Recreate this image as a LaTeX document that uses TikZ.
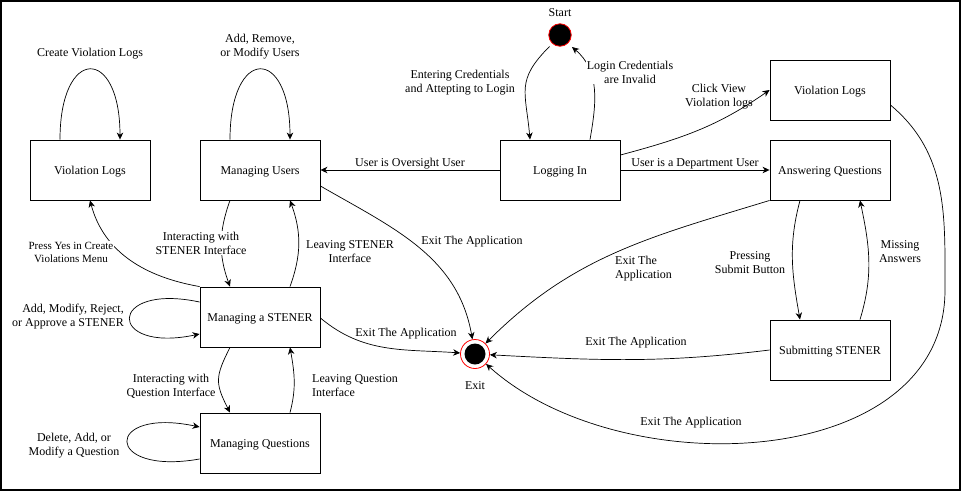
\documentclass[tikz,border=0pt]{standalone}
\usepackage{fontspec}
\setmainfont{Liberation Serif}
\usetikzlibrary{positioning,arrows.meta}

\tikzset{
  statebox/.style={draw,line width=0.9pt,minimum width=120pt,minimum height=60pt,inner sep=0pt,text height=11pt,text depth=2pt,font=\fontsize{12}{14}\selectfont},
  lbl/.style={font=\fontsize{12}{14}\selectfont,align=center,inner sep=1pt,yshift=-2pt},
  tr/.style={-{Stealth[length=7pt,width=6.5pt,inset=2.2pt]},line width=0.7pt},
  startstate/.style={circle,draw=red,fill=black,minimum size=22.5pt,inner sep=0pt,line width=0.8pt},
  endstate/.style={circle,draw=red,fill=white,minimum size=29pt,inner sep=0pt,line width=0.8pt,
    path picture={\fill[black] (path picture bounding box.center) circle (10.5pt);}}
}

\begin{document}
\begin{tikzpicture}[x=1pt,y=1pt]

\useasboundingbox (0,0) rectangle (962,-491);
\draw[line width=1.2pt] (1,-1) rectangle (960,-490);

\node[statebox] (logsL) at (90,-170) {Violation Logs};
\node[statebox] (users) at (260,-170) {Managing Users};
\node[statebox] (login) at (560,-170) {Logging In};
\node[statebox] (logsR) at (830,-90) {Violation Logs};
\node[statebox] (answer) at (830,-170) {Answering Questions};
\node[statebox] (submit) at (830,-350) {Submitting STENER};
\node[statebox] (stener) at (260,-317) {Managing a STENER};
\node[statebox] (questions) at (260,-443) {Managing Questions};

\node[startstate] (start) at (560,-35) {};
\node[lbl] (startlbl) at (560,-11) {Start};
\node[endstate] (exit) at (475,-354) {};
\node[lbl] (exitlbl) at (475,-384) {Exit};

\draw[tr] ([shift={(-10.5pt,-11.5pt)}]start.center) to[out=-135,in=95,looseness=1.3] ([xshift=-30pt]login.north);
\draw[tr] ([xshift=30pt]login.north) to[out=80,in=-40] ([shift={(12pt,-12pt)}]start.center);
\draw[tr] (login.west) -- (users.east);
\draw[tr] (login.east) -- (answer.west);
\draw[tr] ([yshift=15pt]login.east) to[out=15,in=215] (logsR.west);
\coordinate (bend) at (945,-290);
\draw[tr] ([yshift=-15pt]logsR.east) to[out=-40,in=90] (bend) to[out=-90,in=-42] (exit);
\draw[tr] (answer.south west) to[out=197,in=45] (exit);
\draw[tr] ([xshift=-30pt]answer.south) to[out=-105,in=100] ([xshift=-30pt]submit.north);
\draw[tr] ([xshift=30pt]submit.north) to[out=73,in=-78] ([xshift=30pt]answer.south);
\draw[tr] (submit.west) to[out=187,in=-3] (exit);

\draw[tr] ([xshift=-30pt]logsL.north) to[out=90,in=90,looseness=4] ([xshift=30pt]logsL.north);
\draw[tr] ([xshift=-30pt]users.north) to[out=90,in=90,looseness=4] ([xshift=30pt]users.north);
\draw[tr] ([yshift=-16pt]users.east) to[out=-30,in=100] (exit);
\draw[tr] ([xshift=-30pt]users.south) to[out=-110,in=110] ([xshift=-30pt]stener.north);
\draw[tr] ([xshift=30pt]stener.north) to[out=70,in=-70] ([xshift=30pt]users.south);
\draw[tr] (stener.north west) to[out=170,in=-75] (logsL.south);
\draw[tr] ([yshift=15pt]stener.west) to[out=168,in=192,distance=95pt] ([yshift=-17pt]stener.west);
\draw[tr] ([yshift=-1pt]stener.east) to[out=-40,in=176] (exit);
\draw[tr] ([xshift=-30pt]stener.south) to[out=-117,in=117,looseness=1.3] ([xshift=-30pt]questions.north);
\draw[tr] ([xshift=30pt]questions.north) to[out=75,in=-80] ([xshift=30pt]stener.south);
\draw[tr] ([yshift=-16pt]questions.west) to[out=190,in=168,distance=98pt] ([yshift=16pt]questions.west);

\node[lbl] (lblCreate) at (90,-52) {Create Violation Logs};
\node[lbl] (lblUsers) at (260,-45) {Add, Remove,\\or Modify Users};
\node[lbl] (lblOversight) at (410,-162) {User is Oversight User};
\node[lbl] (lblEnter) at (460,-81) {Entering Credentials\\and Attepting to Login};
\node[lbl,fill=white] (lblInvalid) at (630,-70) {Login Credentials\\are Invalid};
\node[lbl] (lblClick) at (719,-95) {Click View\\Violation logs};
\node[lbl] (lblDept) at (695,-162) {User is a Department User};
\node[lbl] (lblExitUsers) at (472,-240) {Exit The Application};
\node[lbl] (lblLeaveStener) at (350,-249.5) {Leaving STENER\\Interface};
\node[lbl,fill=white] (lblInterStener) at (201,-241) {Interacting with\\STENER Interface};
\node[lbl,fill=white,font=\fontsize{11}{13}\selectfont] (lblPress) at (71,-250.5) {Press Yes in Create\\Violations Menu};
\node[lbl,align=right,anchor=east] (lblStenerLoop) at (125,-315) {Add, Modify, Reject,\\or Approve a STENER};
\node[lbl] (lblExitStener) at (406,-332) {Exit The Application};
\node[lbl] (lblInterQ) at (171,-384) {Interacting with\\Question Interface};
\node[lbl,align=left,anchor=west] (lblLeaveQ) at (311,-383.5) {Leaving Question\\Interface};
\node[lbl] (lblQLoop) at (74,-444) {Delete, Add, or\\Modify a Question};
\node[lbl,align=left,anchor=west] (lblExitAnswer) at (614,-267) {Exit The\\Application};
\node[lbl] (lblPressing) at (750,-261) {Pressing\\Submit Button};
\node[lbl] (lblMissing) at (900,-250) {Missing\\Answers};
\node[lbl] (lblExitSubmit) at (636,-341) {Exit The Application};
\node[lbl] (lblExitLogs) at (691,-421) {Exit The Application};

\end{tikzpicture}
\end{document}
